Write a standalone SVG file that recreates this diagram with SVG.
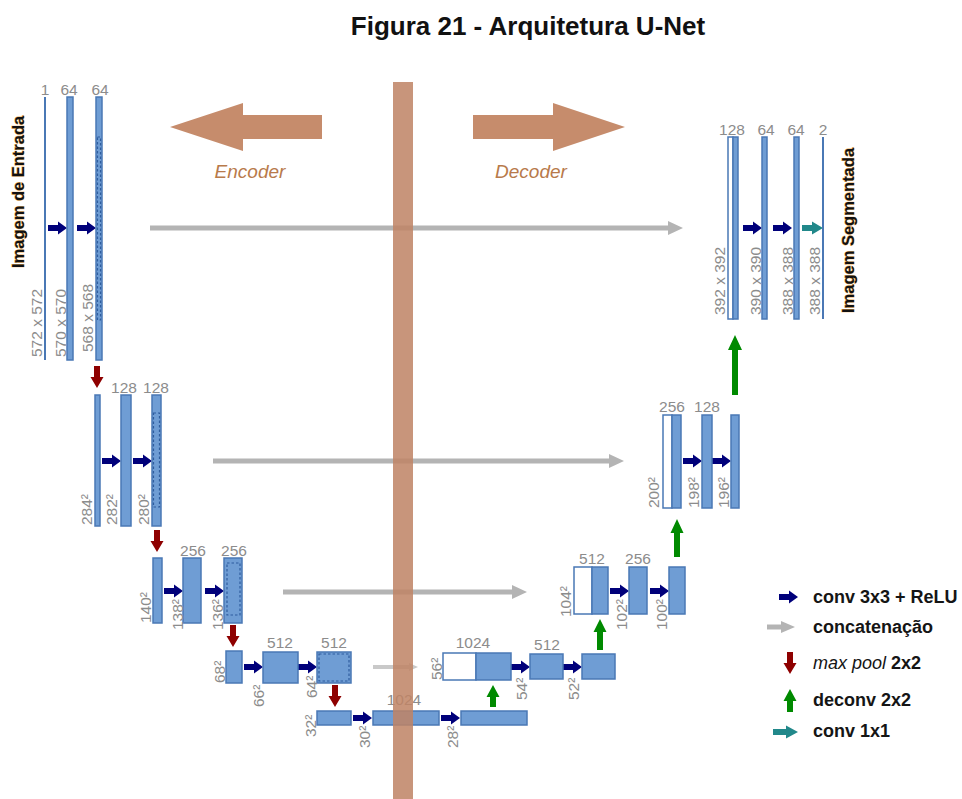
<svg xmlns="http://www.w3.org/2000/svg" xmlns:xlink="http://www.w3.org/1999/xlink" width="962" height="799" viewBox="0 0 962 799">
  <style>
    .map { fill: #6f9dd4; stroke: #4a78b5; stroke-width: 1.5; }
    .copy { fill: #ffffff; stroke: #4a78b5; stroke-width: 1.5; }
    .crop { fill: none; stroke: #2f5d9e; stroke-width: 1.2; stroke-dasharray: 2.5 2; }
    .thin { fill: #4a78b5; }
    .lbl { font-family: "Liberation Sans", Arial, sans-serif; font-size: 15.5px; fill: #8c8c8c; }
    .ch { text-anchor: middle; }
    .title { font-family: "Liberation Sans", Arial, sans-serif; font-size: 26px; font-weight: bold; fill: #111; text-anchor: middle; }
    .side { font-family: "Liberation Sans", Arial, sans-serif; font-size: 19px; font-style: italic; fill: #b87a4b; text-anchor: middle; }
    .io { font-family: "Liberation Sans", Arial, sans-serif; font-size: 16.5px; font-weight: bold; fill: #111; stroke: #f3b35a; stroke-width: 0.8; paint-order: stroke; }
    .leg { font-family: "Liberation Sans", Arial, sans-serif; font-size: 18px; font-weight: bold; fill: #151515; }
    .conv { fill: #00007a; }
    .pool { fill: #8e0000; }
    .up { fill: #008a00; }
    .one { fill: #21888a; }
    .concat { fill: none; stroke: #b4b4b4; stroke-width: 5; }
    .concat-s { fill: none; stroke: #c9c9c9; stroke-width: 4; }
    .brown { fill: #c68c6c; }
  </style>
  <defs>
    <!-- conv 3x3 arrow, tip at origin, pointing right -->
    <path id="convArrow" d="M-19,-3 L-9,-3 L-9,-6.5 L0,0 L-9,6.5 L-9,3 L-19,3 Z"/>
    <!-- max-pool arrow, tip at origin, pointing down -->
    <path id="poolArrow" d="M-3,-22 L3,-22 L3,-11 L6.5,-11 L0,0 L-6.5,-11 L-3,-11 Z"/>
    <marker id="grayHead" markerUnits="userSpaceOnUse" markerWidth="16" markerHeight="14" refX="2" refY="7" orient="auto">
      <path d="M0,0 L15,7 L0,14 Z" fill="#b4b4b4"/>
    </marker>
    <marker id="grayHeadS" markerUnits="userSpaceOnUse" markerWidth="10" markerHeight="10" refX="2" refY="5" orient="auto">
      <path d="M0,1 L9,5 L0,9 Z" fill="#c9c9c9"/>
    </marker>
  </defs>

  <rect width="962" height="799" fill="#ffffff"/>

  <text class="title" x="528" y="35">Figura 21 - Arquitetura U-Net</text>

  <!-- encoder / decoder banner -->
  <g id="banner">
    <path class="brown" d="M170,127 L243,103 L243,115 L322,115 L322,139 L243,139 L243,151 Z"/>
    <path class="brown" d="M625,127 L553,103 L553,115 L473,115 L473,139 L553,139 L553,151 Z"/>
    <text class="side" x="250" y="178">Encoder</text>
    <text class="side" x="531" y="178">Decoder</text>
  </g>

  <!-- skip connections (concatenation) and operation arrows -->
  <g id="connectors">
    <path class="concat" d="M150,228 L670,228" marker-end="url(#grayHead)"/>
    <path class="concat" d="M213,461 L611,461" marker-end="url(#grayHead)"/>
    <path class="concat" d="M283,592 L514,592" marker-end="url(#grayHead)"/>
    <path class="concat-s" d="M373,667 L411,667" marker-end="url(#grayHeadS)"/>

    <!-- conv 3x3 arrows -->
    <use class="conv" href="#convArrow" x="67" y="228"/>
    <use class="conv" href="#convArrow" x="96" y="228"/>
    <use class="conv" href="#convArrow" x="121" y="461"/>
    <use class="conv" href="#convArrow" x="152" y="461"/>
    <use class="conv" href="#convArrow" x="183" y="591"/>
    <use class="conv" href="#convArrow" x="224" y="591"/>
    <use class="conv" href="#convArrow" x="263" y="667"/>
    <use class="conv" href="#convArrow" x="317" y="667"/>
    <use class="conv" href="#convArrow" x="372" y="718"/>
    <use class="conv" href="#convArrow" x="460" y="718"/>
    <use class="conv" href="#convArrow" x="530" y="667"/>
    <use class="conv" href="#convArrow" x="582" y="667"/>
    <use class="conv" href="#convArrow" x="629" y="591"/>
    <use class="conv" href="#convArrow" x="669" y="591"/>
    <use class="conv" href="#convArrow" x="702" y="461"/>
    <use class="conv" href="#convArrow" x="731" y="461"/>
    <use class="conv" href="#convArrow" x="762" y="228"/>
    <use class="conv" href="#convArrow" x="792" y="228"/>
    <path class="one" d="M802,225 L812,225 L812,221.5 L823,228 L812,234.5 L812,231 L802,231 Z"/>

    <!-- max pool arrows -->
    <use class="pool" href="#poolArrow" x="97" y="388"/>
    <use class="pool" href="#poolArrow" x="157" y="552"/>
    <use class="pool" href="#poolArrow" x="233" y="647"/>
    <use class="pool" href="#poolArrow" x="335" y="707"/>

    <!-- up-convolution arrows -->
    <path class="up" d="M490,707 L496,707 L496,697 L499.5,697 L493,685 L486.5,697 L490,697 Z"/>
    <path class="up" d="M597,650 L603,650 L603,632 L606.5,632 L600,619 L593.5,632 L597,632 Z"/>
    <path class="up" d="M674,557 L680,557 L680,533 L683.5,533 L677,519 L670.5,533 L674,533 Z"/>
    <path class="up" d="M732,395 L738,395 L738,350 L742,350 L735,335 L728,350 L732,350 Z"/>
  </g>

  <!-- encoder level 1 -->
  <g id="enc1">
    <rect class="thin" x="44" y="97" width="2" height="263"/>
    <rect class="map" x="67" y="97" width="6" height="263"/>
    <rect class="map" x="96" y="97" width="6" height="263"/>
    <rect class="crop" x="97.5" y="137" width="3" height="183"/>
    <text class="lbl ch" x="45" y="95">1</text>
    <text class="lbl ch" x="69" y="95">64</text>
    <text class="lbl ch" x="100" y="95">64</text>
    <text class="lbl" transform="translate(42,357) rotate(-90)">572 x 572</text>
    <text class="lbl" transform="translate(66,357) rotate(-90)">570 x 570</text>
    <text class="lbl" transform="translate(93,352) rotate(-90)">568 x 568</text>
    <text class="io" transform="translate(24,268) rotate(-90)">Imagem de Entrada</text>
  </g>

  <!-- encoder level 2 -->
  <g id="enc2">
    <rect class="map" x="95" y="395" width="5" height="131"/>
    <rect class="map" x="121" y="395" width="10" height="131"/>
    <rect class="map" x="152" y="395" width="9" height="131"/>
    <rect class="crop" x="153.5" y="413" width="6" height="94"/>
    <text class="lbl ch" x="124" y="393">128</text>
    <text class="lbl ch" x="156" y="393">128</text>
    <text class="lbl" transform="translate(92,525) rotate(-90)">284²</text>
    <text class="lbl" transform="translate(117,525) rotate(-90)">282²</text>
    <text class="lbl" transform="translate(149,525) rotate(-90)">280²</text>
  </g>

  <!-- encoder level 3 -->
  <g id="enc3">
    <rect class="map" x="153" y="558" width="9" height="65"/>
    <rect class="map" x="183" y="558" width="18" height="65"/>
    <rect class="map" x="224" y="558" width="18" height="65"/>
    <rect class="crop" x="227" y="563" width="13" height="52"/>
    <text class="lbl ch" x="193" y="556">256</text>
    <text class="lbl ch" x="234" y="556">256</text>
    <text class="lbl" transform="translate(151,623) rotate(-90)">140²</text>
    <text class="lbl" transform="translate(183,630) rotate(-90)">138²</text>
    <text class="lbl" transform="translate(223,630) rotate(-90)">136²</text>
  </g>

  <!-- encoder level 4 -->
  <g id="enc4">
    <rect class="map" x="226" y="651" width="16" height="32"/>
    <rect class="map" x="263" y="652" width="35" height="31"/>
    <rect class="map" x="317" y="652" width="34" height="31"/>
    <rect class="crop" x="319" y="654" width="30" height="27"/>
    <text class="lbl ch" x="280" y="648">512</text>
    <text class="lbl ch" x="334" y="648">512</text>
    <text class="lbl" transform="translate(225,683) rotate(-90)">68²</text>
    <text class="lbl" transform="translate(264,707) rotate(-90)">66²</text>
    <text class="lbl" transform="translate(317,698) rotate(-90)">64²</text>
  </g>

  <!-- bottleneck -->
  <g id="bottleneck">
    <rect class="map" x="317" y="711" width="34" height="14"/>
    <rect class="map" x="373" y="711" width="66" height="14"/>
    <rect class="map" x="461" y="711" width="66" height="14"/>
    <text class="lbl ch" x="404" y="705">1024</text>
    <text class="lbl" transform="translate(316,737) rotate(-90)">32²</text>
    <text class="lbl" transform="translate(370,748) rotate(-90)">30²</text>
    <text class="lbl" transform="translate(458,748) rotate(-90)">28²</text>
  </g>

  <!-- decoder level 4 -->
  <g id="dec4">
    <rect class="copy" x="443" y="653" width="33" height="27"/>
    <rect class="map" x="476" y="653" width="35" height="27"/>
    <rect class="map" x="530" y="654" width="33" height="25"/>
    <rect class="map" x="582" y="654" width="33" height="25"/>
    <text class="lbl ch" x="473" y="648">1024</text>
    <text class="lbl ch" x="547" y="650">512</text>
    <text class="lbl" transform="translate(442,680) rotate(-90)">56²</text>
    <text class="lbl" transform="translate(527,700) rotate(-90)">54²</text>
    <text class="lbl" transform="translate(579,700) rotate(-90)">52²</text>
  </g>

  <!-- decoder level 3 -->
  <g id="dec3">
    <rect class="copy" x="574" y="567" width="18" height="47"/>
    <rect class="map" x="592" y="567" width="16" height="47"/>
    <rect class="map" x="629" y="567" width="18" height="47"/>
    <rect class="map" x="669" y="567" width="16" height="47"/>
    <text class="lbl ch" x="592" y="564">512</text>
    <text class="lbl ch" x="638" y="564">256</text>
    <text class="lbl" transform="translate(571,617) rotate(-90)">104²</text>
    <text class="lbl" transform="translate(627,630) rotate(-90)">102²</text>
    <text class="lbl" transform="translate(667,630) rotate(-90)">100²</text>
  </g>

  <!-- decoder level 2 -->
  <g id="dec2">
    <rect class="copy" x="663" y="415" width="9" height="93"/>
    <rect class="map" x="672" y="415" width="9" height="93"/>
    <rect class="map" x="702" y="415" width="10" height="93"/>
    <rect class="map" x="731" y="415" width="8" height="93"/>
    <text class="lbl ch" x="672" y="412">256</text>
    <text class="lbl ch" x="707" y="412">128</text>
    <text class="lbl" transform="translate(659,508) rotate(-90)">200²</text>
    <text class="lbl" transform="translate(699,508) rotate(-90)">198²</text>
    <text class="lbl" transform="translate(729,508) rotate(-90)">196²</text>
  </g>

  <!-- decoder level 1 -->
  <g id="dec1">
    <rect class="copy" x="728" y="137" width="5" height="182"/>
    <rect class="map" x="733" y="137" width="5" height="182"/>
    <rect class="map" x="762" y="137" width="5" height="182"/>
    <rect class="map" x="794" y="137" width="5" height="182"/>
    <rect class="thin" x="822" y="137" width="2" height="182"/>
    <text class="lbl ch" x="732" y="135">128</text>
    <text class="lbl ch" x="766" y="135">64</text>
    <text class="lbl ch" x="796" y="135">64</text>
    <text class="lbl ch" x="823" y="135">2</text>
    <text class="lbl" transform="translate(725,315) rotate(-90)">392 x 392</text>
    <text class="lbl" transform="translate(761,315) rotate(-90)">390 x 390</text>
    <text class="lbl" transform="translate(793,315) rotate(-90)">388 x 388</text>
    <text class="lbl" transform="translate(820,315) rotate(-90)">388 x 388</text>
    <text class="io" transform="translate(854,313) rotate(-90)">Imagem Segmentada</text>
  </g>

  <!-- encoder/decoder divider -->
  <rect id="divider" x="393" y="82" width="20" height="717" fill="#bf8465" fill-opacity="0.86"/>

  <!-- legend -->
  <g id="legend">
    <use class="conv" href="#convArrow" x="798" y="597"/>
    <text class="leg" x="813" y="603">conv 3x3 + ReLU</text>
    <path d="M767,627 L782,627" stroke="#b4b4b4" stroke-width="5" fill="none"/>
    <path d="M781,621 L795,627 L781,633 Z" fill="#b4b4b4"/>
    <text class="leg" x="813" y="633">concatenação</text>
    <use class="pool" href="#poolArrow" x="790" y="674"/>
    <text class="leg" x="813" y="669"><tspan font-style="italic" font-weight="normal">max pool</tspan> 2x2</text>
    <path class="up" d="M787,712 L793,712 L793,701 L796.5,701 L790,689 L783.5,701 L787,701 Z"/>
    <text class="leg" x="813" y="706">deconv 2x2</text>
    <path class="one" d="M773,729 L786,729 L786,725.5 L798,732 L786,738.5 L786,735 L773,735 Z"/>
    <text class="leg" x="813" y="737">conv 1x1</text>
  </g>
</svg>
